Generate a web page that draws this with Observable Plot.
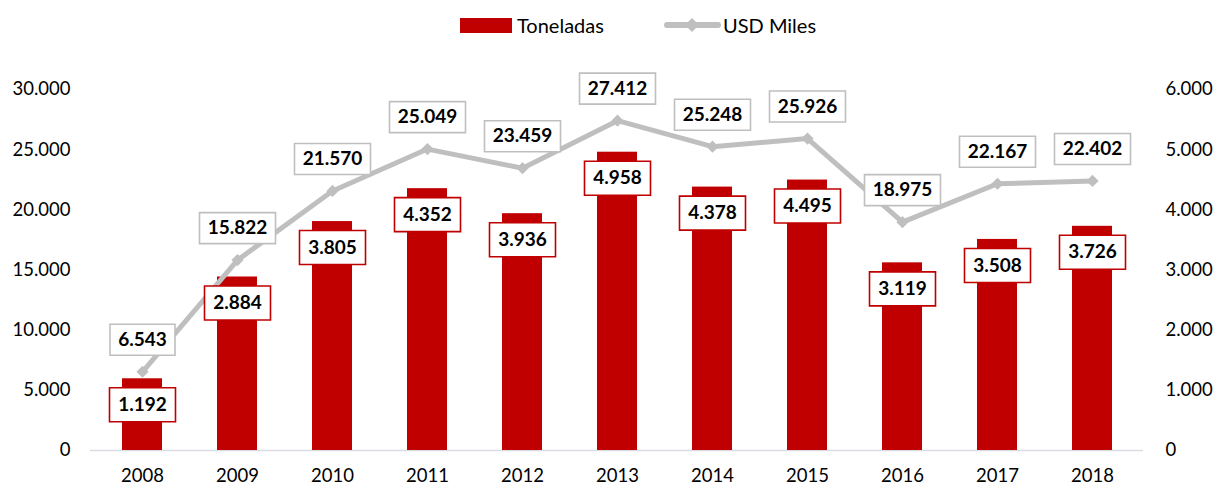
<!DOCTYPE html>
<html><head><meta charset="utf-8">
<script src="https://cdn.jsdelivr.net/npm/d3@7"></script>
<script src="https://cdn.jsdelivr.net/npm/@observablehq/plot@0.6"></script>
<style>
body{margin:0;background:#fff;font-family:Lato,"Open Sans",sans-serif;}
#wrap{position:relative;width:1215px;height:486px;overflow:hidden;}
#legend{position:relative;width:1215px;height:50px;}
.lg{position:absolute;}
.lt{position:absolute;top:12px;height:26px;line-height:26px;font-size:20px;color:#000;white-space:nowrap;}
#chart svg{display:block;}
</style></head>
<body>
<div id="wrap">
  <div id="legend">
    <div class="lg" style="left:460px;top:18px;width:52px;height:15px;background:#C00000;"></div>
    <div class="lt" style="left:517px;">Toneladas</div>
    <div class="lg" style="left:664px;top:22px;width:57px;height:6px;background:#BFBFBF;border-radius:3px;"></div>
    <div class="lg" style="left:687px;top:20px;width:10px;height:10px;background:#BFBFBF;transform:rotate(45deg);"></div>
    <div class="lt" style="left:723px;">USD Miles</div>
  </div>
  <div id="chart"></div>
</div>
<script>
const years = ["2008","2009","2010","2011","2012","2013","2014","2015","2016","2017","2018"];
const toneladas = [1192, 2884, 3805, 4352, 3936, 4958, 4378, 4495, 3119, 3508, 3726];
const usdMiles = [6543, 15822, 21570, 25049, 23459, 27412, 25248, 25926, 18975, 22167, 22402];
const leftTicks = [0, 5000, 10000, 15000, 20000, 25000, 30000];
const rightTicks = [0, 1000, 2000, 3000, 4000, 5000, 6000];
const RATIO = 30000 / 6000;

const fmt = d3.formatLocale({decimal: ",", thousands: ".", grouping: [3], currency: ["", ""]}).format(",");
const data = years.map((y, i) => ({year: y, ton: toneladas[i], usd: usdMiles[i]}));

function box(w, h) {
  return {draw(ctx) {
    ctx.moveTo(-w / 2, -h / 2); ctx.lineTo(w / 2, -h / 2);
    ctx.lineTo(w / 2, h / 2); ctx.lineTo(-w / 2, h / 2); ctx.closePath();
  }};
}
const tonY = d => d.ton * RATIO;
const shortUsd = data.filter(d => fmt(d.usd).length <= 5);
const longUsd = data.filter(d => fmt(d.usd).length > 5);

const plot = Plot.plot({
  width: 1215, height: 436,
  marginLeft: 90, marginRight: 72, marginTop: 39, marginBottom: 36,
  style: {fontFamily: "Lato, 'Open Sans', sans-serif", fontSize: "18.5px", color: "#000", background: "#fff"},
  x: {type: "band", domain: years, paddingInner: 0.58, paddingOuter: 0.29, label: null},
  y: {domain: [0, 30000], label: null},
  marks: [
    Plot.ruleY([0], {stroke: "#D9DCE3", strokeWidth: 1.5}),
    Plot.barY(data, {x: "year", y: tonY, fill: "#C00000"}),
    Plot.line(data, {x: "year", y: "usd", stroke: "#BFBFBF", strokeWidth: 5}),
    Plot.dot(data, {x: "year", y: "usd", symbol: "diamond2", r: 5.5, fill: "#BFBFBF"}),
    Plot.dot(data, {x: "year", y: tonY, dy: 26, symbol: box(66, 34), fill: "white", stroke: "#C00000", strokeWidth: 1.6}),
    Plot.text(data, {x: "year", y: tonY, dy: 26, text: d => fmt(d.ton), fontWeight: "bold", fontSize: 19, fill: "#000"}),
    Plot.dot(shortUsd, {x: "year", y: "usd", dy: -32, symbol: box(65, 31), fill: "white", stroke: "#BFBFBF", strokeWidth: 1.6}),
    Plot.dot(longUsd, {x: "year", y: "usd", dy: -32, symbol: box(76, 31), fill: "white", stroke: "#BFBFBF", strokeWidth: 1.6}),
    Plot.text(data, {x: "year", y: "usd", dy: -32, text: d => fmt(d.usd), fontWeight: "bold", fontSize: 19, fill: "#000"}),
    Plot.axisX({tickSize: 0, tickPadding: 18, label: null}),
    Plot.axisY({ticks: leftTicks, tickSize: 0, tickPadding: 20, tickFormat: fmt, label: null}),
    Plot.axisY({anchor: "right", ticks: rightTicks.map(v => v * RATIO), tickSize: 0, tickPadding: 22, tickFormat: d => fmt(d / RATIO), label: null})
  ]
});
document.getElementById("chart").appendChild(plot);
</script>
</body></html>
